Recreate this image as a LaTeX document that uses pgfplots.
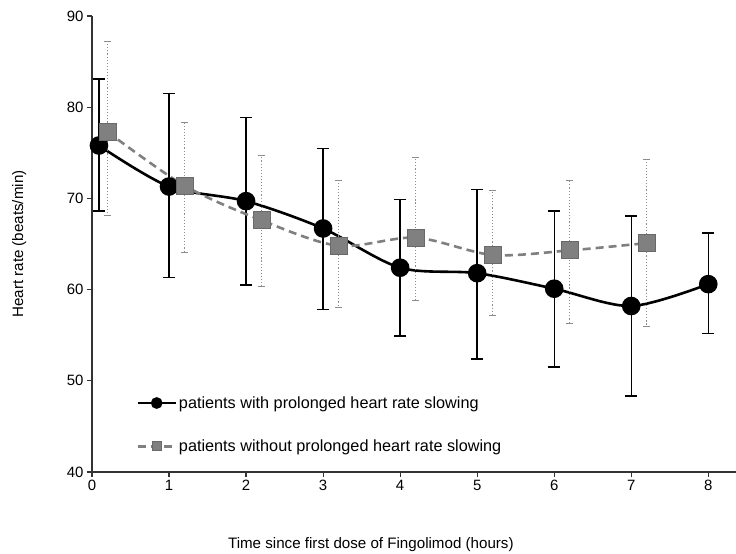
\documentclass[border=0pt]{standalone}
\usepackage{fontspec}
\setmainfont{Liberation Sans}
\usepackage{pgfplots}
\pgfplotsset{compat=1.18}

\definecolor{grayline}{RGB}{128,128,128}
\definecolor{grayedge}{RGB}{105,105,105}
\definecolor{grayerr}{RGB}{140,140,140}

\begin{document}
\begin{tikzpicture}
\useasboundingbox (-92bp,-82bp) rectangle (644bp,472bp);
\begin{axis}[
    scale only axis, width=644bp, height=456bp,
    xmin=0, xmax=8.36, ymin=40, ymax=90,
    axis x line=bottom, axis y line=left,
    axis line style={black!80, line width=1.3bp, -},
    xtick={0,1,...,8}, ytick={40,50,...,90},
    tick align=outside, major tick length=5bp,
    tick style={black!80, line width=1.2bp},
    font=\fontsize{15}{17}\selectfont,
    /pgf/number format/assume math mode=true,
    xlabel={Time since first dose of Fingolimod (hours)},
    xlabel style={at={(axis description cs:0.433,0)}, anchor=center, yshift=-73bp,
        font=\fontsize{15.2}{17}\selectfont},
    ylabel={Heart rate (beats/min)},
    ylabel style={at={(axis description cs:-0.113,0.5)}, anchor=center,
        font=\fontsize{15.2}{17}\selectfont},
    legend style={at={(axis description cs:0.064,0.175)}, anchor=north west,
        draw=none, fill=none, row sep=26bp,
        font=\fontsize{16.3}{18}\selectfont},
    legend cell align=left,
    legend image code/.code={\draw[mark repeat=2, mark phase=2, #1, mark size=4.5bp]
        plot coordinates {(0bp,0bp) (19bp,0bp) (38bp,0bp)};},
]
% patients with prolonged heart rate slowing
\addplot[black, line width=2.6bp, smooth, mark=*, mark size=8bp,
    error bars/.cd, y dir=both, y explicit,
    error bar style={black, line width=1.4bp, solid},
    error mark=-, error mark options={rotate=90, black, line width=1.4bp, mark size=6bp}]
coordinates {
    (0.09,75.8) += (0,7.3)  -= (0,7.2)
    (1,71.3)    += (0,10.2) -= (0,10.0)
    (2,69.7)    += (0,9.2)  -= (0,9.2)
    (3,66.7)    += (0,8.8)  -= (0,8.9)
    (4,62.4)    += (0,7.5)  -= (0,7.5)
    (5,61.8)    += (0,9.2)  -= (0,9.4)
    (6,60.1)    += (0,8.5)  -= (0,8.6)
    (7,58.2)    += (0,9.85) -= (0,9.85)
    (8,60.6)    += (0,5.6)  -= (0,5.4)
};
\addlegendentry{patients with prolonged heart rate slowing}
% patients without prolonged heart rate slowing
\addplot[grayline, line width=2.6bp, dash pattern=on 8bp off 5bp, smooth,
    mark=square*, mark size=8.5bp,
    mark options={solid, fill=grayline, draw=grayedge, line width=0.8bp},
    error bars/.cd, y dir=both, y explicit,
    error bar style={grayerr, line width=1.1bp, dotted},
    error mark=-, error mark options={rotate=90, grayerr, line width=1bp, mark size=3.5bp}]
coordinates {
    (0.2,77.3) += (0,9.95) -= (0,9.2)
    (1.2,71.4) += (0,6.9)  -= (0,7.3)
    (2.2,67.6) += (0,7.1)  -= (0,7.3)
    (3.2,64.8) += (0,7.2)  -= (0,6.75)
    (4.2,65.7) += (0,8.8)  -= (0,6.9)
    (5.2,63.8) += (0,7.1)  -= (0,6.6)
    (6.2,64.3) += (0,7.7)  -= (0,8.0)
    (7.2,65.1) += (0,9.2)  -= (0,9.1)
};
\addlegendentry{patients without prolonged heart rate slowing}
\end{axis}
\end{tikzpicture}
\end{document}
